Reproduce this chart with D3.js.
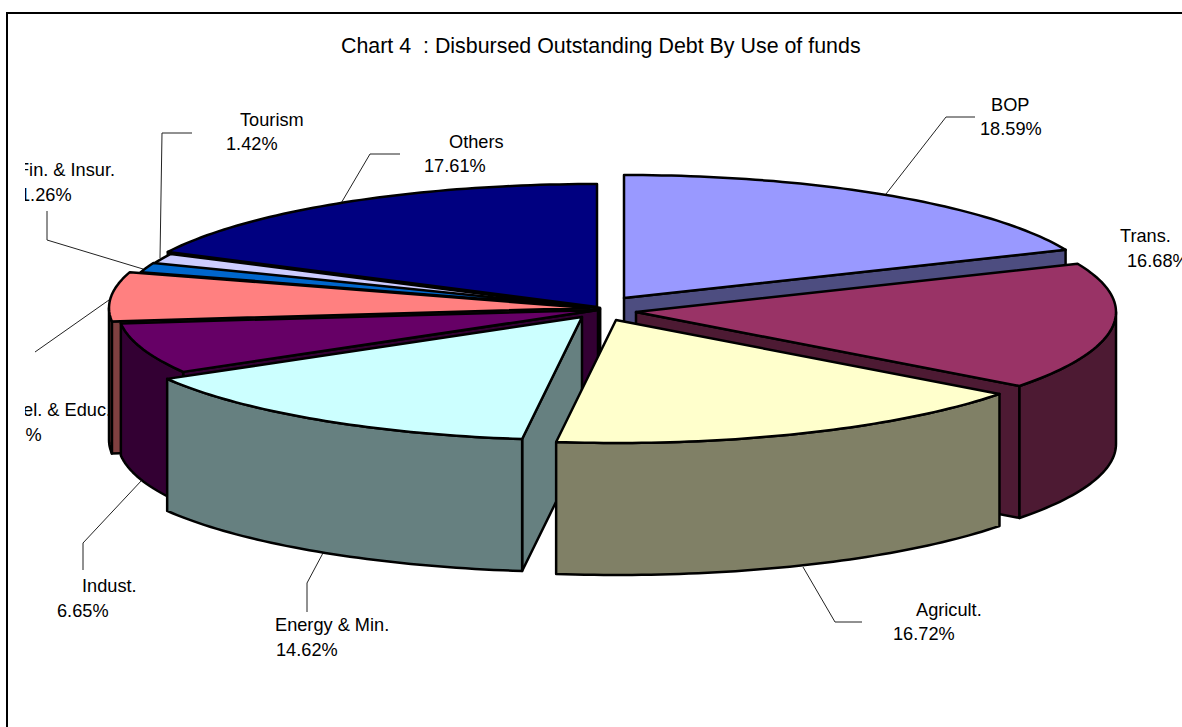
<!DOCTYPE html>
<html><head><meta charset="utf-8">
<style>html,body{margin:0;padding:0;background:#fff;overflow:hidden}svg{display:block}text{font-family:"Liberation Sans",Arial,sans-serif;font-size:18.2px;fill:#000}</style>
<script src="https://cdn.jsdelivr.net/npm/d3@7"></script></head>
<body><svg id="c" width="1182" height="727"></svg>
<script>
// Data
const categories = ["BOP","Trans.","Agricult.","Energy & Min.","Indust.","Tel. & Educ.","Fin. & Insur.","Tourism","Others"];
const shares = [18.59,16.68,16.72,14.62,6.65,6.45,1.26,1.42,17.61];
const shareLabels = ["18.59%","16.68%","16.72%","14.62%","6.65%","6.45%","1.26%","1.42%","17.61%"];
// Styles
const topColors  = ["#9999FF","#993366","#FFFFCC","#CCFFFF","#660066","#FF8080","#0066CC","#CCCCFF","#000080"];
const sideColors = ["#4D4D80","#4D1A33","#808066","#668080","#330033","#804040","#003366","#666680","#000040"];
// Layout: where each exploded wedge's tip sits, and label placement
const tipX = [624,636,616,582,598,589,600,600,597];
const tipY = [298,312,320,317,310,308,308,309,307];
const paintOrder = [8,0,7,6,5,4,1,3,2];
const nameAt  = [[991,111],[1120,242],[916,616],[275,631],[82,592],[14,416],[18,176],[240,126],[449,148]];
const shareAt = [[980,135],[1127,267],[893,640],[276,656],[57,617],[-10,441],[20,201],[226,150],[424,172]];
const leaders = [
 [[886,194],[946,117],[975,117]],
 [[803,567],[835,622],[862,622]],
 [[323,553],[307,583],[307,612]],
 [[142,480],[83,543],[83,570]],
 [[109,300],[35,352]],
 [[143,269],[47,240],[47,211]],
 [[160,258],[162,133],[192,133]],
 [[340,205],[370,154],[400,154]]
];
const rx = 480, ry = 123, depth = 132;

const svg = d3.select("#c");
svg.append("path").attr("d","M7 727V13H1182").attr("fill","none").attr("stroke","#000").attr("stroke-width",2);

svg.append("text").attr("x",341).attr("y",53).style("font-size","21.4px").attr("xml:space","preserve")
   .text("Chart 4  : Disbursed Outstanding Debt By Use of funds");

svg.append("defs").append("clipPath").attr("id","lab").append("rect")
   .attr("x",25).attr("y",0).attr("width",1157).attr("height",727);
const labels = svg.append("g").attr("clip-path","url(#lab)");
categories.forEach((c,i)=>{
  labels.append("text").attr("x",nameAt[i][0]).attr("y",nameAt[i][1]).text(c);
  labels.append("text").attr("x",shareAt[i][0]).attr("y",shareAt[i][1]).text(shareLabels[i]);
});

const line = d3.line();
svg.append("g").selectAll("path").data(leaders).join("path")
   .attr("d",d=>line(d)).attr("fill","none").attr("stroke","#222").attr("stroke-width",1);

const arcs = d3.pie().sort(null).value(d=>d)(shares);
const px = (i,a)=>tipX[i]+rx*Math.sin(a);
const py = (i,a)=>tipY[i]-ry*Math.cos(a);
const samples = (a0,a1)=>{const n=Math.max(2,Math.ceil((a1-a0)/0.02));return d3.range(n+1).map(k=>a0+(a1-a0)*k/n);};

const pie = svg.append("g").attr("stroke","#000").attr("stroke-width",2.5).attr("stroke-linejoin","round");
paintOrder.forEach(i=>{
  const a0=arcs[i].startAngle, a1=arcs[i].endAngle, side=sideColors[i];
  const face=a=>line([[tipX[i],tipY[i]],[px(i,a),py(i,a)],[px(i,a),py(i,a)+depth],[tipX[i],tipY[i]+depth]])+"Z";
  if(Math.sin(a0)<-1e-6) pie.append("path").attr("d",face(a0)).attr("fill",side);
  if(Math.sin(a1)>1e-6)  pie.append("path").attr("d",face(a1)).attr("fill",side);
  const f0=Math.max(a0,Math.PI/2), f1=Math.min(a1,3*Math.PI/2);
  if(f1>f0){
    const s=samples(f0,f1);
    const pts=s.map(a=>[px(i,a),py(i,a)]).concat(s.slice().reverse().map(a=>[px(i,a),py(i,a)+depth]));
    pie.append("path").attr("d",line(pts)+"Z").attr("fill",side);
  }
  const tp=[[tipX[i],tipY[i]]].concat(samples(a0,a1).map(a=>[px(i,a),py(i,a)]));
  pie.append("path").attr("d",line(tp)+"Z").attr("fill",topColors[i]);
});
</script></body></html>
